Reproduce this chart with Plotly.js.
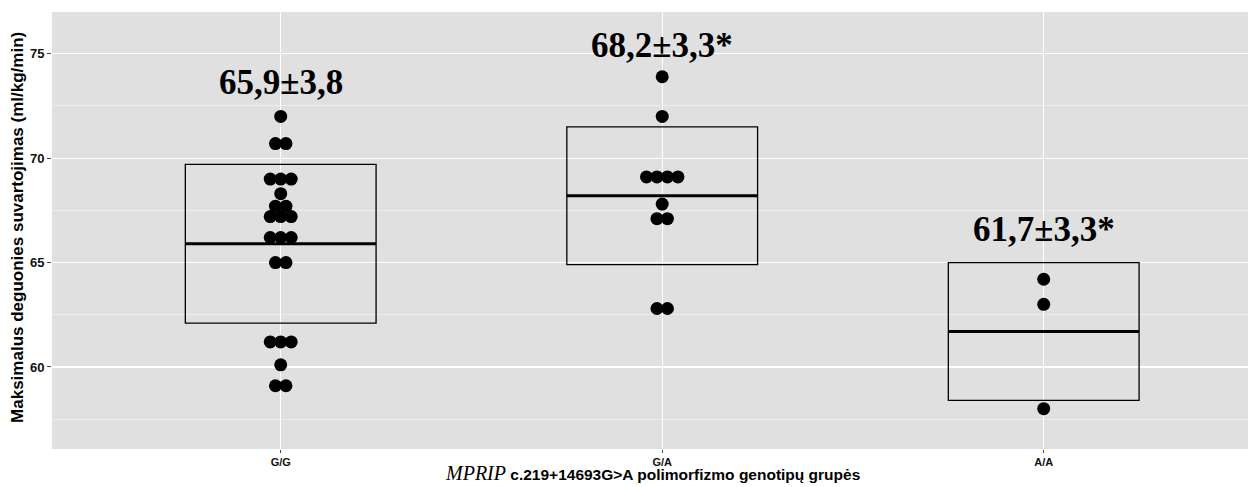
<!DOCTYPE html>
<html>
<head>
<meta charset="utf-8">
<script src="https://cdn.plot.ly/plotly-3.0.1.min.js"></script>
<style>html,body{margin:0;padding:0;background:#fff;}#chart{width:1248px;height:487px;}</style>
</head>
<body>
<div id="chart"></div>
<script>
// ---- data ----
var categories = ["G/G", "G/A", "A/A"];
var means = [65.9, 68.2, 61.7];
var sds = [3.8, 3.3, 3.3];
var labels = ["65,9±3,8", "68,2±3,3*", "61,7±3,3*"];
var labelY = [73.6, 75.4, 66.6];
var valuesGG = [72.0, 70.7, 70.7, 69.0, 69.0, 69.0, 68.3, 67.7, 67.7, 67.2, 67.2, 67.2,
                66.2, 66.2, 66.2, 65.0, 65.0, 61.2, 61.2, 61.2, 60.1, 59.1, 59.1];
var valuesGA = [73.9, 72.0, 69.1, 69.1, 69.1, 69.1, 67.8, 67.1, 67.1, 62.8, 62.8];
var valuesAA = [64.2, 63.0, 58.0];
var yTicks = [60, 65, 70, 75];

var groups = [valuesGG, valuesGA, valuesAA];
var boxHalf = 0.25;
var dotStep = 0.0275;

var traces = [];
// boxes: mean ± sd
categories.forEach(function (c, i) {
  traces.push({
    type: 'box', x: [i], q1: [means[i] - sds[i]], median: [means[i]],
    q3: [means[i] + sds[i]], lowerfence: [means[i] - sds[i]], upperfence: [means[i] + sds[i]],
    width: boxHalf * 2, fillcolor: 'rgba(0,0,0,0)', line: {color: '#000', width: 1.3},
    whiskerwidth: 0, hoverinfo: 'skip', showlegend: false
  });
  traces.push({
    type: 'scatter', mode: 'lines', x: [i - boxHalf, i + boxHalf], y: [means[i], means[i]],
    line: {color: '#000', width: 3}, hoverinfo: 'skip', showlegend: false
  });
});
// dots: stacked centred dotplot
groups.forEach(function (vals, i) {
  var counts = {};
  vals.forEach(function (v) { counts[v] = (counts[v] || 0) + 1; });
  var seen = {};
  var xs = [], ys = [];
  vals.forEach(function (v) {
    var n = counts[v];
    var k = seen[v] || 0;
    seen[v] = k + 1;
    xs.push(i + (k - (n - 1) / 2) * dotStep);
    ys.push(v);
  });
  traces.push({
    type: 'scatter', mode: 'markers', x: xs, y: ys,
    marker: {color: '#000', size: 13, line: {width: 0}},
    hoverinfo: 'skip', showlegend: false
  });
});

var annotations = categories.map(function (c, i) {
  return {
    x: i, y: labelY[i], xref: 'x', yref: 'y', text: '<b>' + labels[i] + '</b>',
    showarrow: false, xanchor: 'center', yanchor: 'middle',
    font: {family: 'Liberation Serif, Times New Roman, serif', size: 35, color: '#000'}
  };
});
annotations.push({
  xref: 'paper', yref: 'paper', x: -0.0284, y: 0.506, textangle: -90,
  text: '<b>Maksimalus deguonies suvartojimas (ml/kg/min)</b>', showarrow: false,
  xanchor: 'center', yanchor: 'middle',
  font: {family: 'Liberation Sans, Arial, sans-serif', size: 17, color: '#000'}
});
annotations.push({
  xref: 'paper', yref: 'paper', x: 0.5017, y: -0.084,
  text: '<span style="font-family:Liberation Serif;font-size:20px;font-style:italic">MPRIP</span> <b>c.219+14693G>A polimorfizmo genotipų grupės</b>',
  showarrow: false, xanchor: 'center', yanchor: 'bottom',
  font: {family: 'Liberation Sans, Arial, sans-serif', size: 15.5, color: '#000'}
});

var layout = {
  width: 1248, height: 487,
  margin: {l: 52, r: 0, t: 12, b: 38, pad: 0},
  paper_bgcolor: '#ffffff', plot_bgcolor: '#e0e0e0',
  showlegend: false,
  xaxis: {
    range: [-0.5995, 2.5355], tickvals: [0, 1, 2], ticktext: categories,
    showgrid: true, gridcolor: '#ffffff', gridwidth: 1.2, zeroline: false,
    ticks: 'outside', ticklen: 3, tickcolor: '#444', tickwidth: 1,
    tickfont: {family: 'Liberation Sans, Arial, sans-serif', size: 11, color: '#111', weight: 'bold'},
    showline: false, fixedrange: true
  },
  yaxis: {
    range: [56.07, 77.0], tickvals: yTicks,
    showgrid: true, gridcolor: '#ffffff', gridwidth: 1.2, zeroline: false,
    ticks: 'outside', ticklen: 4, tickcolor: '#444', tickwidth: 1,
    tickfont: {family: 'Liberation Sans, Arial, sans-serif', size: 13, color: '#111', weight: 'bold'},
    minor: {dtick: 2.5, tick0: 0, showgrid: true, gridcolor: '#f2f2f2', gridwidth: 0.7, ticks: ''},
    showline: false, fixedrange: true
  },
  annotations: annotations
};

Plotly.newPlot('chart', traces, layout, {displayModeBar: false, staticPlot: true});
</script>
</body>
</html>
